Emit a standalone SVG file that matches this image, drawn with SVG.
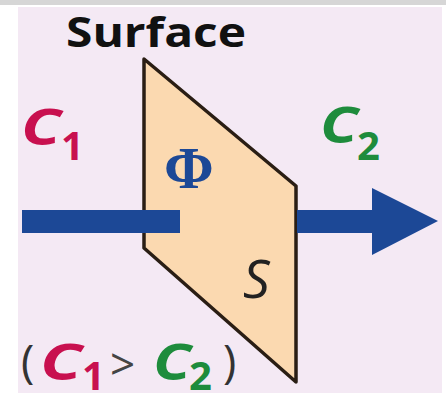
<svg xmlns="http://www.w3.org/2000/svg" width="446" height="393" viewBox="0 0 446 393">
<style>
.c1{fill:#c8104f}
.c2{fill:#1e8c3c}
.cb{font-family:"Open Sans","Liberation Sans",sans-serif;font-weight:bold;font-style:italic;font-size:50px}
.sub{font-family:"Open Sans","Liberation Sans",sans-serif;font-weight:bold;font-size:40px}
.par{font-family:"Open Sans","Liberation Sans",sans-serif;font-size:45px;fill:#333}
.blue{fill:#1c4896}
</style>
<rect x="0" y="0" width="446" height="393" fill="#ffffff"/>
<rect x="0" y="0" width="446" height="5" fill="#d6d6d6"/>
<rect x="18" y="7" width="424" height="386" fill="#f4e9f4"/>
<g id="surface-label">
<text x="66" y="47" font-family="'Open Sans','Liberation Sans',sans-serif" font-weight="bold" font-size="42" textLength="180" lengthAdjust="spacingAndGlyphs" fill="#111">Surface</text>
</g>
<g id="plane">
<polygon points="144,59 296,186 296,382 144,248" fill="#fbd9b0" stroke="#2a1e14" stroke-width="3.5" stroke-linejoin="round"/>
<text x="164" y="188" font-family="'Liberation Serif',serif" font-weight="bold" font-size="60" class="blue">Φ</text>
<text x="243" y="298" font-family="'Open Sans','Liberation Sans',sans-serif" font-style="italic" font-size="53" fill="#222">S</text>
</g>
<g id="connectors">
<rect x="22" y="210" width="158" height="23" class="blue"/>
<polygon points="297,210 372,210 372,188 438,221 372,255 372,233 297,233" class="blue"/>
</g>
<g id="c1-label">
<text x="21" y="145" textLength="40" lengthAdjust="spacingAndGlyphs" class="cb c1">C</text>
<text x="61" y="160" class="sub c1">1</text>
</g>
<g id="c2-label">
<text x="320" y="143" textLength="38" lengthAdjust="spacingAndGlyphs" class="cb c2">C</text>
<text x="357" y="160" class="sub c2">2</text>
</g>
<g id="condition">
<text x="21" y="378" class="par">(</text>
<text x="40" y="380" textLength="42" lengthAdjust="spacingAndGlyphs" class="cb c1">C</text>
<text x="82" y="390" class="sub c1">1</text>
<text x="110" y="380" font-family="'Open Sans','Liberation Sans',sans-serif" font-size="44" fill="#444">&gt;</text>
<text x="153" y="380" textLength="38" lengthAdjust="spacingAndGlyphs" class="cb c2">C</text>
<text x="189" y="390" class="sub c2">2</text>
<text x="223" y="378" class="par">)</text>
</g>
</svg>
